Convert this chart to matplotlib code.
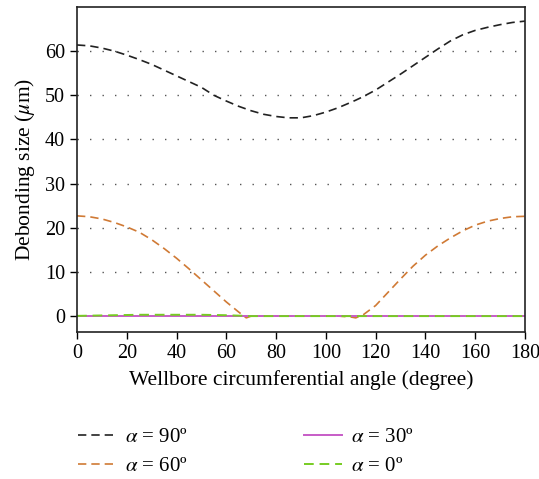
import matplotlib
matplotlib.use("Agg")
import matplotlib.pyplot as plt

plt.rcParams['font.family'] = ['Liberation Serif', 'DejaVu Serif']
plt.rcParams['mathtext.fontset'] = 'stix'

angles = [0, 5, 10, 15, 20, 25, 30, 35, 40, 45, 50, 55, 60, 65, 68, 70, 75, 80, 85, 90,
          95, 100, 105, 110, 112, 115, 120, 125, 130, 135, 140, 145, 150, 155, 160, 165,
          170, 175, 180]

a90 = [61.4, 61.2, 60.7, 60.0, 59.1, 58.1, 57.0, 55.7, 54.4, 53.1, 51.8, 50.0, 48.7, 47.5,
       46.9, 46.5, 45.7, 45.2, 44.9, 44.9, 45.4, 46.2, 47.2, 48.4, 48.9, 49.7, 51.2, 53.0,
       54.8, 56.7, 58.6, 60.5, 62.3, 63.7, 64.7, 65.4, 66.0, 66.5, 66.8]

a60 = [22.7, 22.5, 22.0, 21.2, 20.2, 19.0, 17.3, 15.3, 13.1, 10.7, 8.2, 5.7, 3.2, 0.9,
       -0.4, 0.0, 0.0, 0.0, 0.0, 0.0, 0.0, 0.0, 0.0, -0.2, -0.4, 0.3, 2.4, 5.4, 8.4, 11.3,
       13.8, 15.9, 17.7, 19.3, 20.6, 21.5, 22.1, 22.5, 22.6]

a30 = [0.0] * len(angles)

a0 = [0.05, 0.1, 0.15, 0.2, 0.25, 0.3, 0.3, 0.3, 0.3, 0.3, 0.3, 0.25, 0.2, 0.1, 0.05, 0.0,
      0.0, 0.0, 0.0, 0.0, 0.0, 0.0, 0.0, 0.0, 0.0, 0.0, 0.0, 0.0, 0.0, 0.0, 0.0, 0.0, 0.0,
      0.0, 0.0, 0.0, 0.0, 0.0, 0.0]

labels = [r'$\alpha$ = 90º', r'$\alpha$ = 60º', r'$\alpha$ = 30º', r'$\alpha$ = 0º']

fig = plt.figure(figsize=(5.39, 4.79), dpi=100)
ax = fig.add_axes([0.1429, 0.3069, 0.8311, 0.6785])

for y in range(10, 70, 10):
    ax.axhline(y, color='#555555', lw=1.0, ls=(0, (1, 8)), zorder=0)

l1, = ax.plot(angles, a90, color='#222222', lw=1.2, ls=(0, (5, 3)))
l2, = ax.plot(angles, a60, color='#d07a35', lw=1.2, ls=(0, (5, 3)))
l3, = ax.plot(angles, a30, color='#c75cc7', lw=1.4, ls='-')
l4, = ax.plot(angles, a0, color='#77cc22', lw=1.4, ls=(0, (5, 3)))

ax.set_xlim(0, 180)
ax.set_ylim(-3.6, 70)
ax.set_xticks(range(0, 181, 20))
ax.set_yticks(range(0, 61, 10))
ax.tick_params(direction='out', length=5, width=1, labelsize=14.5, top=False, right=False)
for s in ax.spines.values():
    s.set_linewidth(1.2)
    s.set_color('#222222')

ax.set_xlabel('Wellbore circumferential angle (degree)', fontsize=15.5, labelpad=5)
ax.set_ylabel(r'Debonding size ($\mu$m)', fontsize=15.5, labelpad=6)

fig.legend([l1, l2, l3, l4], labels, loc='lower left', bbox_to_anchor=(0.11, -0.033),
           ncol=2, frameon=False, fontsize=15, handlelength=1.8, handletextpad=0.45,
           columnspacing=5.6, labelspacing=0.45)

fig.savefig('out.png', dpi=100)
